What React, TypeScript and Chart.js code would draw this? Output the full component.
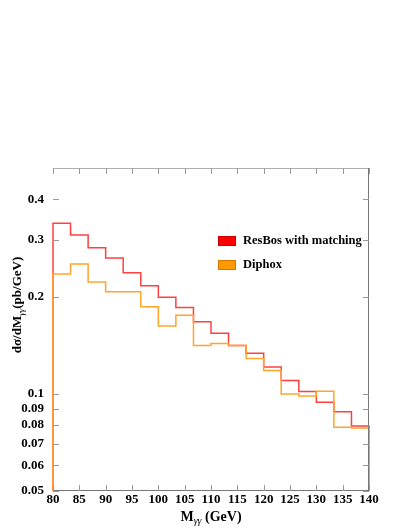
import React, { useEffect, useRef } from 'react';
import { Chart, ChartConfiguration, registerables } from 'chart.js';

Chart.register(...registerables);

// bin edges (GeV), 18 bins of 10/3 GeV
const binEdges = [80, 83.33, 86.67, 90, 93.33, 96.67, 100, 103.33, 106.67, 110, 113.33, 116.67, 120, 123.33, 126.67, 130, 133.33, 136.67, 140];
const resbos = [0.337, 0.31, 0.283, 0.263, 0.237, 0.216, 0.199, 0.185, 0.167, 0.154, 0.141, 0.1335, 0.121, 0.11, 0.1017, 0.0942, 0.0879, 0.0795];
const diphox = [0.235, 0.252, 0.222, 0.207, 0.207, 0.186, 0.162, 0.175, 0.141, 0.143, 0.141, 0.1285, 0.118, 0.0999, 0.0984, 0.1019, 0.0788, 0.0784];
const yTicks = [0.05, 0.06, 0.07, 0.08, 0.09, 0.1, 0.2, 0.3, 0.4];
const xTicks = [80, 85, 90, 95, 100, 105, 110, 115, 120, 125, 130, 135, 140];

const Y_MIN = 0.05;
const Y_MAX = 0.5;
const FONT = '"Liberation Serif", "Times New Roman", serif';

// outline of a histogram: up from the floor, along the bins, back to the floor
const histPoints = (vals: number[]) => {
  const pts = [{ x: binEdges[0], y: Y_MIN }];
  vals.forEach((v, i) => pts.push({ x: binEdges[i], y: v }));
  pts.push({ x: binEdges[binEdges.length - 1], y: vals[vals.length - 1] });
  pts.push({ x: binEdges[binEdges.length - 1], y: Y_MIN });
  return pts;
};

const framePlugin = {
  id: 'frame',
  afterDraw(chart: Chart) {
    const { ctx, chartArea: a, scales } = chart;
    const x = scales.x;
    const y = scales.y;
    ctx.save();

    // frame
    ctx.strokeStyle = '#b0b0b0';
    ctx.lineWidth = 1;
    ctx.beginPath();
    ctx.moveTo(a.left, a.top + 0.5);
    ctx.lineTo(a.right, a.top + 0.5);
    ctx.stroke();
    ctx.strokeStyle = '#777';
    ctx.beginPath();
    ctx.moveTo(a.right - 0.5, a.top);
    ctx.lineTo(a.right - 0.5, a.bottom);
    ctx.moveTo(a.left, a.bottom - 0.5);
    ctx.lineTo(a.right, a.bottom - 0.5);
    ctx.stroke();

    // inward ticks on all four sides
    ctx.strokeStyle = '#999';
    ctx.beginPath();
    xTicks.forEach((t) => {
      const px = Math.round(x.getPixelForValue(t)) + 0.5;
      ctx.moveTo(px, a.bottom);
      ctx.lineTo(px, a.bottom - 6);
      ctx.moveTo(px, a.top);
      ctx.lineTo(px, a.top + 6);
    });
    yTicks.forEach((t) => {
      const py = Math.round(y.getPixelForValue(t)) + 0.5;
      ctx.moveTo(a.left, py);
      ctx.lineTo(a.left + 6, py);
      ctx.moveTo(a.right, py);
      ctx.lineTo(a.right - 6, py);
    });
    ctx.stroke();

    // legend
    const items = [
      { label: 'ResBos with matching', fill: '#ff0000', edge: '#c80000', cy: 241 },
      { label: 'Diphox', fill: '#ff9900', edge: '#d07800', cy: 265 },
    ];
    ctx.font = `bold 12.5px ${FONT}`;
    ctx.textBaseline = 'middle';
    ctx.textAlign = 'left';
    items.forEach((it) => {
      ctx.fillStyle = it.fill;
      ctx.fillRect(218, it.cy - 5, 18, 10);
      ctx.strokeStyle = it.edge;
      ctx.strokeRect(218.5, it.cy - 4.5, 17, 9);
      ctx.fillStyle = '#000';
      ctx.fillText(it.label, 243, it.cy);
    });

    // x title: M_γγ (GeV)
    ctx.textBaseline = 'alphabetic';
    const xBase = 521;
    const m = 'M';
    const rest = ' (GeV)';
    ctx.font = `italic 10px ${FONT}`;
    const subW = ctx.measureText('γγ').width;
    ctx.font = `bold 14px ${FONT}`;
    const total = ctx.measureText(m).width + subW + ctx.measureText(rest).width;
    let cx = (a.left + a.right) / 2 - total / 2;
    ctx.fillText(m, cx, xBase);
    cx += ctx.measureText(m).width;
    ctx.font = `italic 10px ${FONT}`;
    ctx.fillText('γγ', cx, xBase + 3);
    cx += subW;
    ctx.font = `bold 14px ${FONT}`;
    ctx.fillText(rest, cx, xBase);

    // y title: dσ/dM_γγ(pb/GeV), rotated
    ctx.translate(21, 305);
    ctx.rotate(-Math.PI / 2);
    const a1 = 'dσ/dM';
    const a2 = '(pb/GeV)';
    ctx.font = `italic 9px ${FONT}`;
    const subWy = ctx.measureText('γγ').width;
    ctx.font = `bold 13px ${FONT}`;
    const w1 = ctx.measureText(a1).width;
    const w2 = ctx.measureText(a2).width;
    const yTotal = w1 + subWy + w2;
    let ty = -yTotal / 2;
    ctx.fillText(a1, ty, 0);
    ty += w1;
    ctx.font = `italic 9px ${FONT}`;
    ctx.fillText('γγ', ty, 3);
    ty += subWy;
    ctx.font = `bold 13px ${FONT}`;
    ctx.fillText(a2, ty, 0);

    ctx.restore();
  },
};

const HistChart: React.FC = () => {
  const canvasRef = useRef<HTMLCanvasElement>(null);
  const chartRef = useRef<Chart | null>(null);

  useEffect(() => {
    if (!canvasRef.current) return;
    if (chartRef.current) chartRef.current.destroy();

    const config: ChartConfiguration<'line'> = {
      type: 'line',
      data: {
        datasets: [
          {
            label: 'Diphox',
            data: histPoints(diphox),
            borderColor: '#ffa52a',
            borderWidth: 1.5,
            stepped: 'before',
            pointRadius: 0,
            fill: false,
            clip: 4,
            order: 0,
          },
          {
            label: 'ResBos with matching',
            data: histPoints(resbos),
            borderColor: '#ff4040',
            borderWidth: 1.5,
            stepped: 'before',
            pointRadius: 0,
            fill: false,
            clip: 4,
            order: 1,
          },
        ],
      },
      options: {
        responsive: false,
        maintainAspectRatio: false,
        animation: false,
        layout: { padding: { top: 168, right: 40, left: 0, bottom: 0 } },
        plugins: {
          legend: { display: false },
          tooltip: { enabled: false },
        },
        scales: {
          x: {
            type: 'linear',
            min: 80,
            max: 140,
            afterBuildTicks: (s: any) => {
              s.ticks = xTicks.map((v) => ({ value: v }));
            },
            afterFit: (s: any) => {
              s.height = 38;
            },
            grid: { display: false, drawTicks: false },
            border: { display: false },
            ticks: {
              padding: 1,
              color: '#000',
              maxRotation: 0,
              autoSkip: false,
              font: { family: FONT, size: 13, weight: 'bold' },
              callback: (v: any) => String(v),
            },
          },
          y: {
            type: 'logarithmic',
            min: Y_MIN,
            max: Y_MAX,
            afterBuildTicks: (s: any) => {
              s.ticks = yTicks.map((v) => ({ value: v }));
            },
            afterFit: (s: any) => {
              s.width = 53;
            },
            grid: { display: false, drawTicks: false },
            border: { display: false },
            ticks: {
              padding: 9,
              color: '#000',
              autoSkip: false,
              font: { family: FONT, size: 13, weight: 'bold' },
              callback: (v: any) => String(Number(v)),
            },
          },
        },
      },
      plugins: [framePlugin],
    };

    chartRef.current = new Chart(canvasRef.current, config);
    return () => {
      chartRef.current?.destroy();
      chartRef.current = null;
    };
  }, []);

  return (
    <canvas
      ref={canvasRef}
      width={409}
      height={529}
      style={{ width: '409px', height: '529px', display: 'block' }}
    />
  );
};

export default function App() {
  return (
    <div style={{ position: 'fixed', left: 0, top: 0, width: 409, height: 529, background: '#fff' }}>
      <HistChart />
    </div>
  );
}
